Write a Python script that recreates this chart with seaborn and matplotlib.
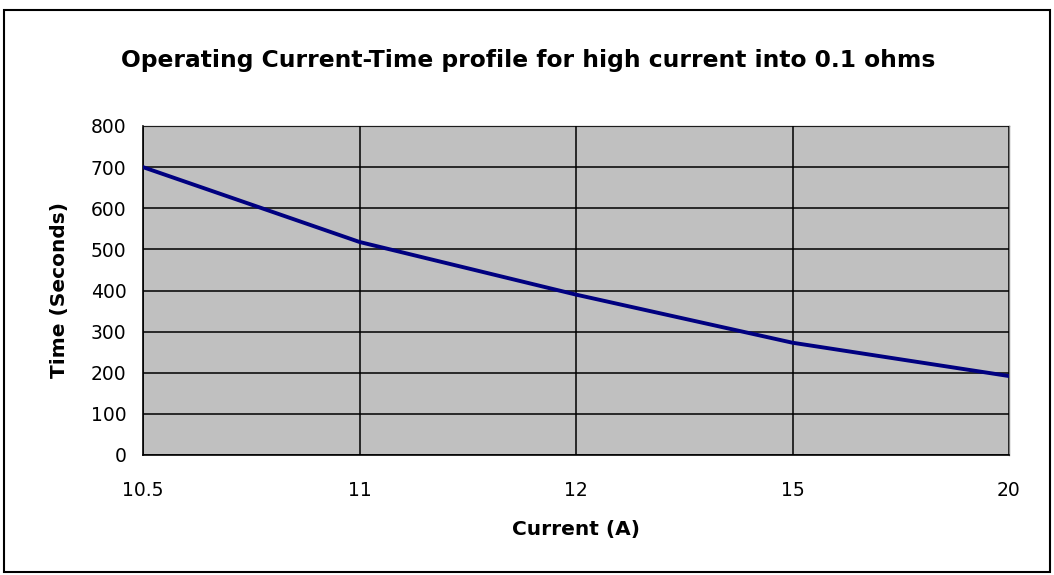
import matplotlib
matplotlib.use("Agg")
import matplotlib.pyplot as plt
import seaborn as sns
import pandas as pd
from matplotlib.patches import Rectangle

currents = ["10.5", "11", "12", "15", "20"]
times = [700, 518, 390, 273, 192]
y_ticks = [0, 100, 200, 300, 400, 500, 600, 700, 800]

sns.set_style("white")
plt.rcParams['font.family'] = ['DejaVu Sans']
plt.rcParams['text.color'] = 'black'
plt.rcParams['axes.labelcolor'] = 'black'
plt.rcParams['xtick.color'] = 'black'
plt.rcParams['ytick.color'] = 'black'

df = pd.DataFrame({"Current": currents, "Time": times})

fig = plt.figure(figsize=(10.54, 5.75), dpi=100)
ax = fig.add_axes([143/1054, 1-455/575, (1009-143)/1054, (455-126)/575])
ax.set_facecolor("#C0C0C0")

sns.lineplot(data=df, x="Current", y="Time", ax=ax, color="#000080", linewidth=2.8, sort=False)

ax.set_xlim(0, len(currents) - 1)
ax.set_ylim(0, 800)
ax.set_yticks(y_ticks)
ax.set_xticks(range(len(currents)))
ax.set_xticklabels(currents)
ax.grid(True, color="black", linewidth=1.1)
ax.set_axisbelow(False)
for line in ax.get_lines():
    line.set_zorder(5)

for s in ["top", "right"]:
    ax.spines[s].set_color("#808080")
    ax.spines[s].set_linewidth(1)
for s in ["left", "bottom"]:
    ax.spines[s].set_color("black")
    ax.spines[s].set_linewidth(1.2)

ax.tick_params(axis="both", direction="out", length=7, width=1.2, color="black",
               labelcolor="black", labelsize=13.5, pad=5)
ax.tick_params(axis="x", pad=12)

ax.set_xlabel("Current (A)", fontsize=14.5, fontweight="bold", color="black")
ax.set_ylabel("Time (Seconds)", fontsize=14.5, fontweight="bold", color="black")
ax.xaxis.set_label_coords(0.5, -(530-455)/329)
ax.xaxis.label.set_va("center")
ax.yaxis.set_label_coords(-(143-60)/866, 0.5)
ax.yaxis.label.set_va("center")

fig.text(528/1054, 1-60/575, "Operating Current-Time profile for high current into 0.1 ohms",
         ha="center", va="center", fontsize=16.8, fontweight="bold", color="black")

fig.patches.append(Rectangle((4/1054, 1-572/575), (1050-4)/1054, (572-10)/575,
                             transform=fig.transFigure, fill=False,
                             edgecolor="black", linewidth=1.5))

fig.savefig("out.png", dpi=100)
